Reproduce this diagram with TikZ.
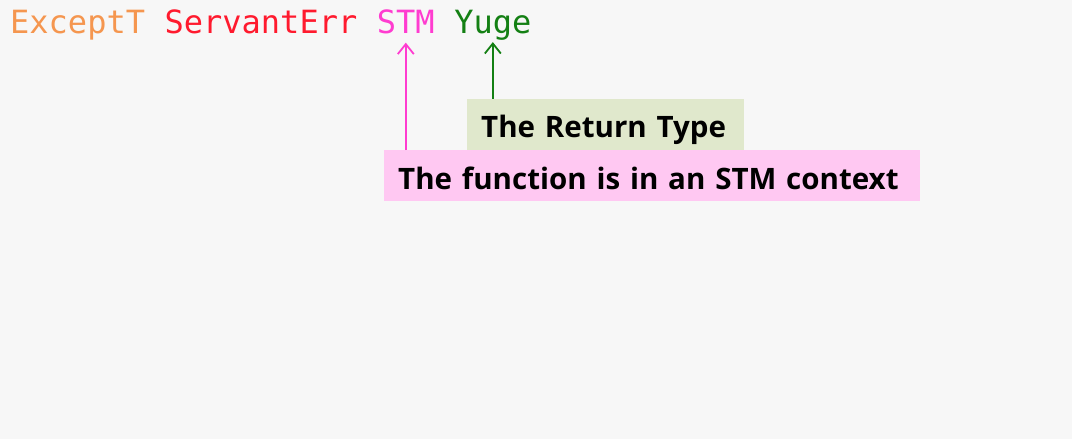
\documentclass[tikz,border=0pt]{standalone}
\usepackage{fontspec}
\setmonofont{DejaVu Sans Mono}
\newfontfamily\labelfont{Open Sans}
\usetikzlibrary{arrows.meta, backgrounds, positioning}
\definecolor{my_bg}{HTML}{F7F7F7}
\definecolor{my_orange}{HTML}{F5964F}
\definecolor{my_red}{HTML}{FF1A2E}
\definecolor{my_magenta}{HTML}{FF3CD0}
\definecolor{my_green}{HTML}{148014}
\definecolor{my_lightgreen}{HTML}{E0E8CC}
\definecolor{my_pink}{HTML}{FFC8F2}

\begin{document}
\begin{tikzpicture}[
    x=1pt, y=-1pt,
    show background rectangle,
    background rectangle/.style={fill=my_bg},
    inner frame sep=0pt,
    codeword/.style={font=\fontsize{32}{36}\selectfont\ttfamily, inner xsep=0pt, inner ysep=2pt, anchor=base west},
    labelbox/.style={font=\fontsize{29.5}{34}\selectfont\labelfont\bfseries, text=black,
        text height=39pt, text depth=12pt, inner ysep=0pt, inner xsep=14pt, align=left},
    pointer/.style={line width=1.8pt, -{Straight Barb[length=10pt, width=16pt, line width=1.8pt]}}
]
\useasboundingbox (0,0) rectangle (1072,439);

% Typsignatur
\node[codeword, text=my_orange] (except) at (10,33) {ExceptT};
\node[codeword, text=my_red, base right=19.2pt of except] (servant) {ServantErr};
\node[codeword, text=my_magenta, base right=19.2pt of servant] (stm) {STM};
\node[codeword, text=my_green, base right=19.2pt of stm] (yuge) {Yuge};

% Beschriftungen
\node[labelbox, fill=my_pink, text width=508pt, anchor=north west] (context) at (384,150)
    {The function is in an STM context};
\node[labelbox, fill=my_lightgreen, text width=249pt, anchor=south west] (ret)
    at ([xshift=83pt]context.north west) {The Return Type};

% Pfeile
\draw[pointer, my_magenta, shorten >=7pt] (context.north -| stm) -- (stm.south);
\draw[pointer, my_green, line width=1.4pt] (ret.north -| yuge) -- (yuge.south);

\end{tikzpicture}
\end{document}
